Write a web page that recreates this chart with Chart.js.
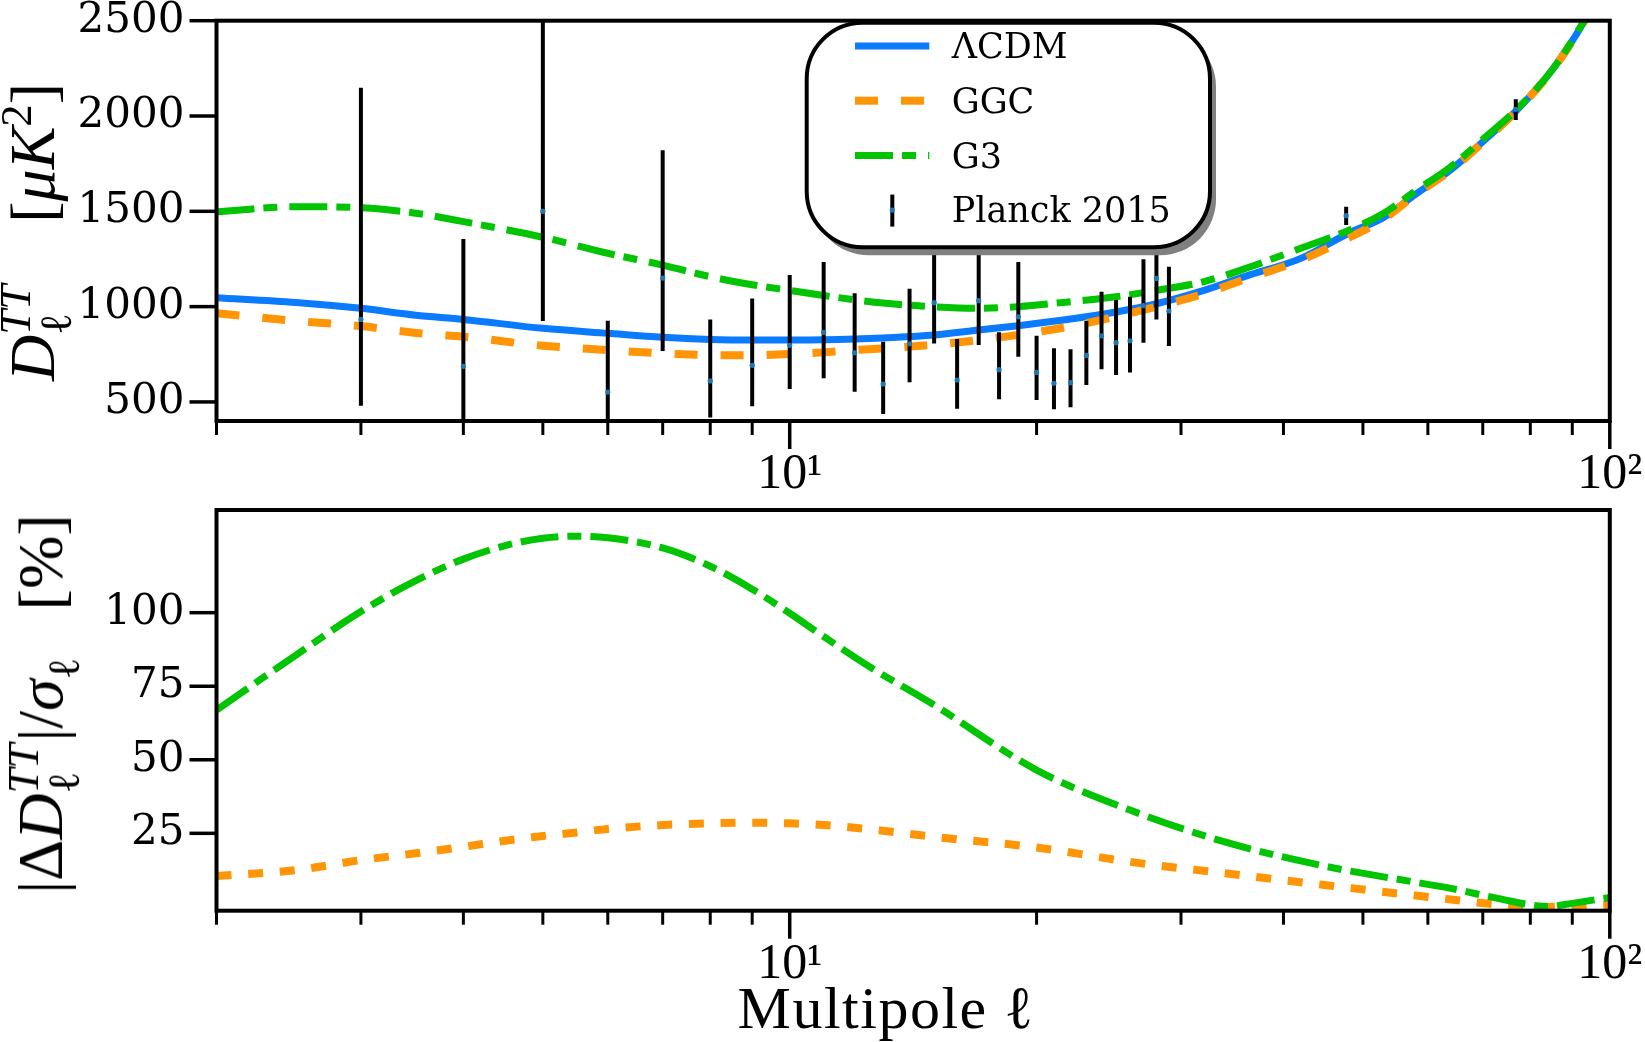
<!DOCTYPE html>
<html>
<head>
<meta charset="utf-8">
<script src="https://cdn.jsdelivr.net/npm/chart.js@4.4.1/dist/chart.umd.min.js"></script>
<style>
  html, body { margin: 0; padding: 0; background: #fff; }
  body { width: 1645px; height: 1042px; position: relative; overflow: hidden; }
  canvas { position: absolute; left: 0; }
  #top { top: 0; }
  #bottom { top: 490px; }
  .lab { position: absolute; font-family: 'Liberation Serif', serif; color: #000; white-space: nowrap; line-height: 1; }
  .rot { transform: translate(-50%, -50%) rotate(-90deg); }
  .ss { display: inline-block; position: relative; height: 0.7em; vertical-align: baseline; }
  .ss span { position: absolute; left: 0; font-size: 0.7em; }
  .ss .sup { top: -0.366em; }
  .ss .sub { top: 0.555em; }
  .sp { font-size: 0.7em; position: relative; top: -0.51em; }
</style>
</head>
<body>
<canvas id="top" width="1645" height="490"></canvas>
<canvas id="bottom" width="1645" height="552"></canvas>

<div class="lab rot" style="left:33.4px; top:232px; font-size:64px;"><i>D</i><span class="ss" style="width:54px"><span class="sup"><i>TT</i></span><span class="sub">ℓ</span></span><span style="display:inline-block;width:58px"></span>[<i>μK</i><span class="sp">2</span>]</div>
<div class="lab rot" style="left:41px; top:704px; font-size:64px;">|Δ<i>D</i><span class="ss" style="width:52px"><span class="sup"><i>TT</i></span><span class="sub">ℓ</span></span>|/<i>σ</i><span class="ss" style="width:23px"><span class="sub">ℓ</span></span><span style="display:inline-block;width:46px"></span>[%]</div>
<div class="lab" style="left:886px; top:978px; font-size:60px; letter-spacing:1.5px; transform:translateX(-50%);">Multipole ℓ</div>

<script>
// Upper panel: D_l^TT of the three models (uK^2)
const ellTop = [2, 2.5, 3, 3.5, 4, 5, 6, 7, 8, 9, 10, 11, 12, 13, 15, 17, 19, 22, 25, 28, 32, 36, 42, 48, 53, 58, 64, 70, 77, 85, 93, 100];
const lcdmTop = [1047, 1022, 991, 955, 933, 886, 860, 839, 828, 825, 825, 826, 830, 836, 851, 877, 900, 935, 972, 1015, 1085, 1160, 1253, 1385, 1468, 1590, 1718, 1865, 2030, 2240, 2494, 2760];
const ggcTop = [965, 925, 898, 862, 842, 795, 772, 755, 746, 745, 751, 760, 772, 781, 800, 825, 852, 897, 948, 1000, 1068, 1145, 1244, 1360, 1460, 1588, 1716, 1862, 2028, 2238, 2494, 2760];
const g3Top = [1498, 1524, 1519, 1490, 1446, 1364, 1280, 1218, 1157, 1115, 1085, 1058, 1036, 1019, 999, 991, 1000, 1026, 1052, 1085, 1131, 1201, 1306, 1400, 1490, 1608, 1734, 1878, 2035, 2240, 2500, 2770];

// Planck 2015 points with lower / upper error
const planckEll = [3, 4, 5, 6, 7, 8, 9, 10, 11, 12, 13, 14, 15, 16, 17, 18, 19, 20, 21, 22, 23, 24, 25, 26, 27, 28, 29, 47.7, 76.8];
const planckD = [933, 687, 1500, 552, 1150, 610, 692, 797, 865, 758, 594, 805, 1021, 615, 1031, 669, 947, 655, 598, 601, 744, 847, 811, 821, 1005, 1148, 977, 1477, 2035];
const planckLo = [480, 180, 924, 250, 767, 419, 477, 568, 624, 554, 437, 603, 807, 464, 799, 514, 737, 510, 461, 472, 589, 671, 641, 655, 811, 933, 793, 1428, 1979];
const planckHi = [2148, 1355, 2950, 926, 1820, 933, 1042, 1166, 1234, 1070, 816, 1094, 1300, 830, 1300, 865, 1234, 847, 781, 776, 924, 1078, 1035, 1052, 1248, 1390, 1209, 1524, 2088];

// Lower panel: |dD| / sigma in percent
const ellBottom = [2, 2.5, 3, 3.5, 4, 4.5, 5, 5.5, 6, 7, 8, 9, 10, 11, 12.5, 15, 20, 26, 34, 45, 59, 64, 73, 84, 90, 100];
const g3Diff = [66.9, 85.6, 100.4, 110.9, 118.2, 122.8, 125.3, 126.0, 125.5, 122.0, 115.8, 108.0, 99.8, 91.9, 81.7, 68.6, 46.5, 32.9, 22.0, 13.8, 8.0, 6.3, 2.9, 0.1, 1.2, 3.2];
const ggcDiff = [10.5, 12.5, 15.9, 18.2, 20.4, 22.5, 24.1, 25.3, 26.5, 27.8, 28.4, 28.6, 28.4, 27.8, 26.4, 23.8, 20.2, 15.3, 11.4, 7.4, 3.6, 2.5, 0.8, 0.0, 0.3, 0.7];

// Axis ticks
const xTickValues = [2, 3, 4, 5, 6, 7, 8, 9, 10, 20, 30, 40, 50, 60, 70, 80, 90, 100];
const xMajorTicks = [10, 100];
const xMajorLabels = ['10¹', '10²'];
const topYTicks = [500, 1000, 1500, 2000, 2500];
const bottomYTicks = [25, 50, 75, 100];

const legendOrder = ['lcdm', 'ggc', 'g3', 'planck'];

const BLUE = '#0a7aff', ORANGE = '#ff9505', GREEN = '#02c402';

function pts(xs, ys) { return xs.map((x, i) => ({ x, y: ys[i] })); }

// error bars as one broken line: lo, hi, gap
function errorSegments() {
  const out = [];
  planckEll.forEach((l, i) => {
    out.push({ x: l, y: planckLo[i] }, { x: l, y: planckHi[i] }, { x: l, y: null });
  });
  return out;
}

function xScale(h) {
  return {
    type: 'logarithmic', min: 2, max: 100,
    grid: { display: false, drawTicks: false },
    border: { display: false },
    afterBuildTicks: s => { s.ticks = xTickValues.map(v => ({ value: v })); },
    afterFit: s => { s.height = h; s.paddingLeft = 0; s.paddingRight = 0; },
    ticks: {
      autoSkip: false, maxRotation: 0, padding: 24, color: '#000',
      font: { family: 'Liberation Serif', size: 50 },
      callback: v => { const k = xMajorTicks.indexOf(v); return k >= 0 ? xMajorLabels[k] : ''; }
    }
  };
}

function yScale(min, max, tickVals) {
  return {
    type: 'linear', min, max,
    grid: { display: false, drawTicks: false },
    border: { display: false },
    afterBuildTicks: s => { s.ticks = tickVals.map(v => ({ value: v })); },
    afterFit: s => { s.width = 216.5; s.paddingTop = 0; s.paddingBottom = 0; },
    ticks: { padding: 32, color: '#000', font: { family: 'DejaVu Serif', size: 42 }, callback: v => String(v) }
  };
}

// plot frame + outward ticks (major ticks longer)
const frameTicks = {
  id: 'frameTicks',
  afterDraw(chart) {
    const { ctx, chartArea: a, scales: { x, y } } = chart;
    ctx.save();
    ctx.strokeStyle = '#000';
    ctx.setLineDash([]);
    for (const t of x.ticks) {
      const px = x.getPixelForValue(t.value);
      const major = xMajorTicks.includes(t.value);
      ctx.lineWidth = major ? 3.5 : 3;
      ctx.beginPath(); ctx.moveTo(px, a.bottom); ctx.lineTo(px, a.bottom + (major ? 28 : 14)); ctx.stroke();
    }
    ctx.lineWidth = 3.5;
    for (const t of y.ticks) {
      const py = y.getPixelForValue(t.value);
      ctx.beginPath(); ctx.moveTo(a.left, py); ctx.lineTo(a.left - 27, py); ctx.stroke();
    }
    ctx.lineWidth = 4;
    ctx.strokeRect(a.left, a.top, a.right - a.left, a.bottom - a.top);
    ctx.restore();
  }
};

function roundBox(ctx, x, y, w, h, r) {
  ctx.beginPath();
  ctx.moveTo(x + r, y);
  ctx.arcTo(x + w, y, x + w, y + h, r);
  ctx.arcTo(x + w, y + h, x, y + h, r);
  ctx.arcTo(x, y + h, x, y, r);
  ctx.arcTo(x, y, x + w, y, r);
  ctx.closePath();
}

// fancy legend box with shadow, like matplotlib's
const legendBox = {
  id: 'legendBox',
  afterDraw(chart) {
    const ctx = chart.ctx;
    const L = 806.7, T = 22.7, W = 403.3, H = 224.6, R = 56;
    ctx.save();
    roundBox(ctx, L + 6, T + 8, W, H, R);
    ctx.fillStyle = '#808080'; ctx.fill();
    roundBox(ctx, L, T, W, H, R);
    ctx.fillStyle = '#fff'; ctx.fill();
    ctx.lineWidth = 4; ctx.strokeStyle = '#000'; ctx.stroke();

    ctx.font = '35px "DejaVu Serif"';
    ctx.textBaseline = 'alphabetic';
    ctx.textAlign = 'left';
    legendOrder.forEach((key, i) => {
      const ds = chart.data.datasets.find(d => d.key === key);
      const yRow = 46 + i * 54.7;
      if (key === 'planck') {
        ctx.setLineDash([]);
        ctx.strokeStyle = '#000'; ctx.lineWidth = 4;
        ctx.beginPath(); ctx.moveTo(892.3, yRow - 15.5); ctx.lineTo(892.3, yRow + 16.5); ctx.stroke();
        ctx.fillStyle = ds.backgroundColor;
        ctx.beginPath(); ctx.arc(892.3, yRow, 2.6, 0, Math.PI * 2); ctx.fill();
      } else {
        ctx.setLineDash(ds.borderDash || []);
        ctx.strokeStyle = ds.borderColor; ctx.lineWidth = ds.borderWidth;
        ctx.beginPath(); ctx.moveTo(855, yRow); ctx.lineTo(929.3, yRow); ctx.stroke();
      }
      ctx.setLineDash([]);
      ctx.fillStyle = '#000';
      ctx.fillText(ds.label, 951.7, yRow + 12.3);
    });
    ctx.restore();
  }
};

const common = {
  responsive: false, animation: false, devicePixelRatio: 1, events: [],
  plugins: { legend: { display: false }, tooltip: { enabled: false } },
  elements: { point: { radius: 0 }, line: { borderCapStyle: 'butt', borderJoinStyle: 'round' } }
};

new Chart(document.getElementById('top'), {
  type: 'line',
  data: {
    datasets: [
      { key: 'planck', label: 'Planck 2015', data: pts(planckEll, planckD), showLine: false,
        pointRadius: 2.6, pointBackgroundColor: '#1f77b4', backgroundColor: '#1f77b4', pointBorderWidth: 0, order: 0, clip: 0 },
      { key: 'bars', label: '', data: errorSegments(), borderColor: '#000', borderWidth: 4, spanGaps: false,
        tension: 0, order: 1, clip: 0 },
      { key: 'g3', label: 'G3', data: pts(ellTop, g3Top), borderColor: GREEN, borderWidth: 7,
        borderDash: [38, 9, 14, 12], cubicInterpolationMode: 'monotone', order: 2, clip: 0 },
      { key: 'ggc', label: 'GGC', data: pts(ellTop, ggcTop), borderColor: ORANGE, borderWidth: 8,
        borderDash: [23, 23], cubicInterpolationMode: 'monotone', order: 3, clip: 0 },
      { key: 'lcdm', label: 'ΛCDM', data: pts(ellTop, lcdmTop), borderColor: BLUE, borderWidth: 7,
        cubicInterpolationMode: 'monotone', order: 4, clip: 0 }
    ]
  },
  options: Object.assign({}, common, {
    layout: { padding: { top: 20.7, right: 35.2, left: 0, bottom: 0 } },
    scales: { x: xScale(69), y: yScale(400, 2500, topYTicks) }
  }),
  plugins: [frameTicks, legendBox]
});

new Chart(document.getElementById('bottom'), {
  type: 'line',
  data: {
    datasets: [
      { key: 'g3', label: 'G3', data: pts(ellBottom, g3Diff), borderColor: GREEN, borderWidth: 7,
        borderDash: [38, 9, 14, 9], cubicInterpolationMode: 'monotone', order: 0, clip: 0 },
      { key: 'ggc', label: 'GGC', data: pts(ellBottom, ggcDiff), borderColor: ORANGE, borderWidth: 8,
        borderDash: [15, 16.7], cubicInterpolationMode: 'monotone', order: 1, clip: 0 }
    ]
  },
  options: Object.assign({}, common, {
    layout: { padding: { top: 20, right: 35.2, left: 0, bottom: 0 } },
    scales: { x: xScale(131.3), y: yScale(-1.3, 134.9, bottomYTicks) }
  }),
  plugins: [frameTicks]
});
</script>
</body>
</html>
